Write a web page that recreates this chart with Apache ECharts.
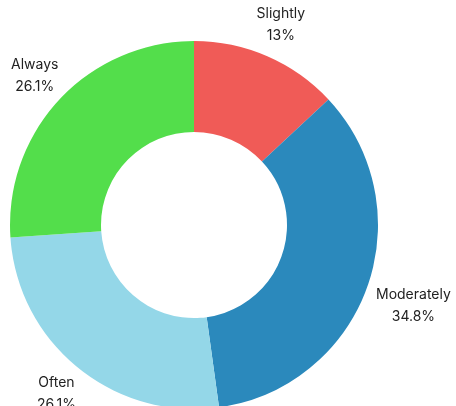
<!DOCTYPE html>
<html>
<head>
<meta charset="utf-8">
<script src="https://cdn.jsdelivr.net/npm/echarts@6/dist/echarts.min.js"></script>
<style>
  html, body { margin: 0; padding: 0; background: #fff; }
  #chart { width: 456px; height: 406px; }
</style>
</head>
<body>
<div id="chart"></div>
<script>
// Response counts per frequency level
const categories = ['Slightly', 'Moderately', 'Often', 'Always'];
const counts = [3, 8, 6, 6];
const colors = ['#F05B57', '#2B89BC', '#94D7E8', '#53DE4B'];

const total = counts.reduce((a, b) => a + b, 0);
const pctText = v => {
  const p = Math.round(v / total * 1000) / 10;
  return (p % 1 === 0 ? p.toFixed(0) : p.toFixed(1)) + '%';
};

const slices = categories.map((name, i) => ({
  name, value: counts[i], itemStyle: { color: colors[i] }
}));

// Label ring: transparent pie whose inside labels sit just outside the donut
const labelSlices = categories.map((name, i) => ({
  name, value: counts[i],
  label: name === 'Moderately' ? { offset: [14, 8] } : {}
}));

const center = [194, 225];

const chart = echarts.init(document.getElementById('chart'), null, { renderer: 'canvas' });
chart.setOption({
  animation: false,
  backgroundColor: '#fff',
  series: [
    {
      type: 'pie',
      center,
      radius: [93, 184],
      startAngle: 90,
      clockwise: true,
      silent: true,
      label: { show: false },
      labelLine: { show: false },
      data: slices
    },
    {
      type: 'pie',
      center,
      radius: [198, 232],
      startAngle: 90,
      clockwise: true,
      silent: true,
      itemStyle: { color: 'rgba(0,0,0,0)' },
      label: {
        show: true,
        position: 'inside',
        rotate: 0,
        formatter: p => p.name + '\n' + pctText(p.value),
        fontFamily: 'Inter, "Noto Sans", sans-serif',
        fontSize: 14,
        lineHeight: 22,
        color: '#222',
        align: 'center'
      },
      labelLine: { show: false },
      data: labelSlices
    }
  ]
});
</script>
</body>
</html>
